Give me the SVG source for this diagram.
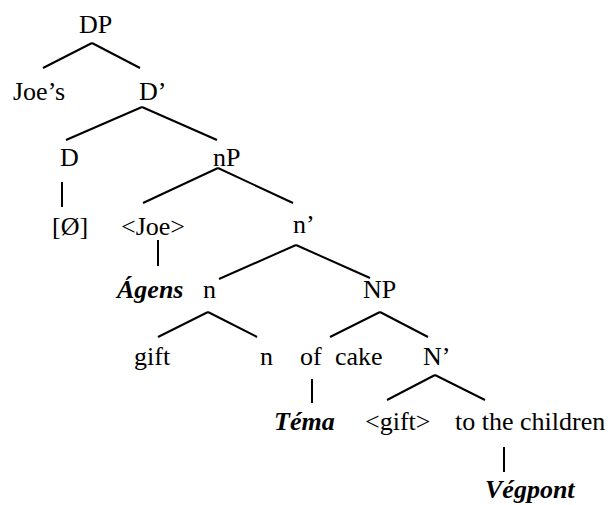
<svg xmlns="http://www.w3.org/2000/svg" width="608" height="505" viewBox="0 0 608 505">
<style>
text{font-family:"Liberation Serif","Times New Roman",serif;font-size:26px;fill:#000}
.b{font-weight:bold;font-style:italic}
.e line{stroke:#000;stroke-width:2}
</style>
<rect width="608" height="505" fill="#fff"/>
<g class="e" id="connectors">
<line x1="92" y1="43" x2="43" y2="68"/>
<line x1="92" y1="43" x2="140" y2="68"/>
<line x1="142" y1="107" x2="66" y2="140"/>
<line x1="142" y1="107" x2="217" y2="140"/>
<line x1="62" y1="182" x2="62" y2="207"/>
<line x1="218" y1="168" x2="143" y2="203"/>
<line x1="218" y1="168" x2="293" y2="203"/>
<line x1="158" y1="240" x2="158" y2="266"/>
<line x1="296" y1="245" x2="219" y2="279"/>
<line x1="296" y1="245" x2="370" y2="278"/>
<line x1="208" y1="312" x2="158" y2="337"/>
<line x1="208" y1="312" x2="257" y2="337"/>
<line x1="380" y1="312" x2="330" y2="337"/>
<line x1="380" y1="312" x2="428" y2="337"/>
<line x1="312" y1="379" x2="312" y2="403"/>
<line x1="435" y1="375" x2="387" y2="400"/>
<line x1="435" y1="375" x2="485" y2="400"/>
<line x1="504" y1="447" x2="504" y2="472"/>
</g>
<g id="DP"><text x="79" y="33">DP</text></g>
<g id="Joes"><text x="13" y="100">Joe’s</text></g>
<g id="Dbar"><text x="139" y="100">D’</text></g>
<g id="D"><text x="60" y="166">D</text></g>
<g id="nP"><text x="213" y="166">nP</text></g>
<g id="empty"><text x="52" y="235">[Ø]</text></g>
<g id="Joe"><text x="121" y="235">&lt;Joe&gt;</text></g>
<g id="nbar"><text x="293" y="233">n’</text></g>
<g id="Agens"><text class="b" x="117" y="298">Ágens</text></g>
<g id="n1"><text x="203" y="298">n</text></g>
<g id="NP"><text x="363" y="298">NP</text></g>
<g id="gift"><text x="134" y="365">gift</text></g>
<g id="n2"><text x="260" y="365">n</text></g>
<g id="of"><text x="300" y="365">of</text></g>
<g id="cake"><text x="335" y="365">cake</text></g>
<g id="Nbar"><text x="423" y="365">N’</text></g>
<g id="Tema"><text class="b" x="274" y="430">Téma</text></g>
<g id="giftt"><text x="365" y="430">&lt;gift&gt;</text></g>
<g id="children"><text x="455" y="430">to the children</text></g>
<g id="Vegpont"><text class="b" x="485" y="498">Végpont</text></g>
</svg>
